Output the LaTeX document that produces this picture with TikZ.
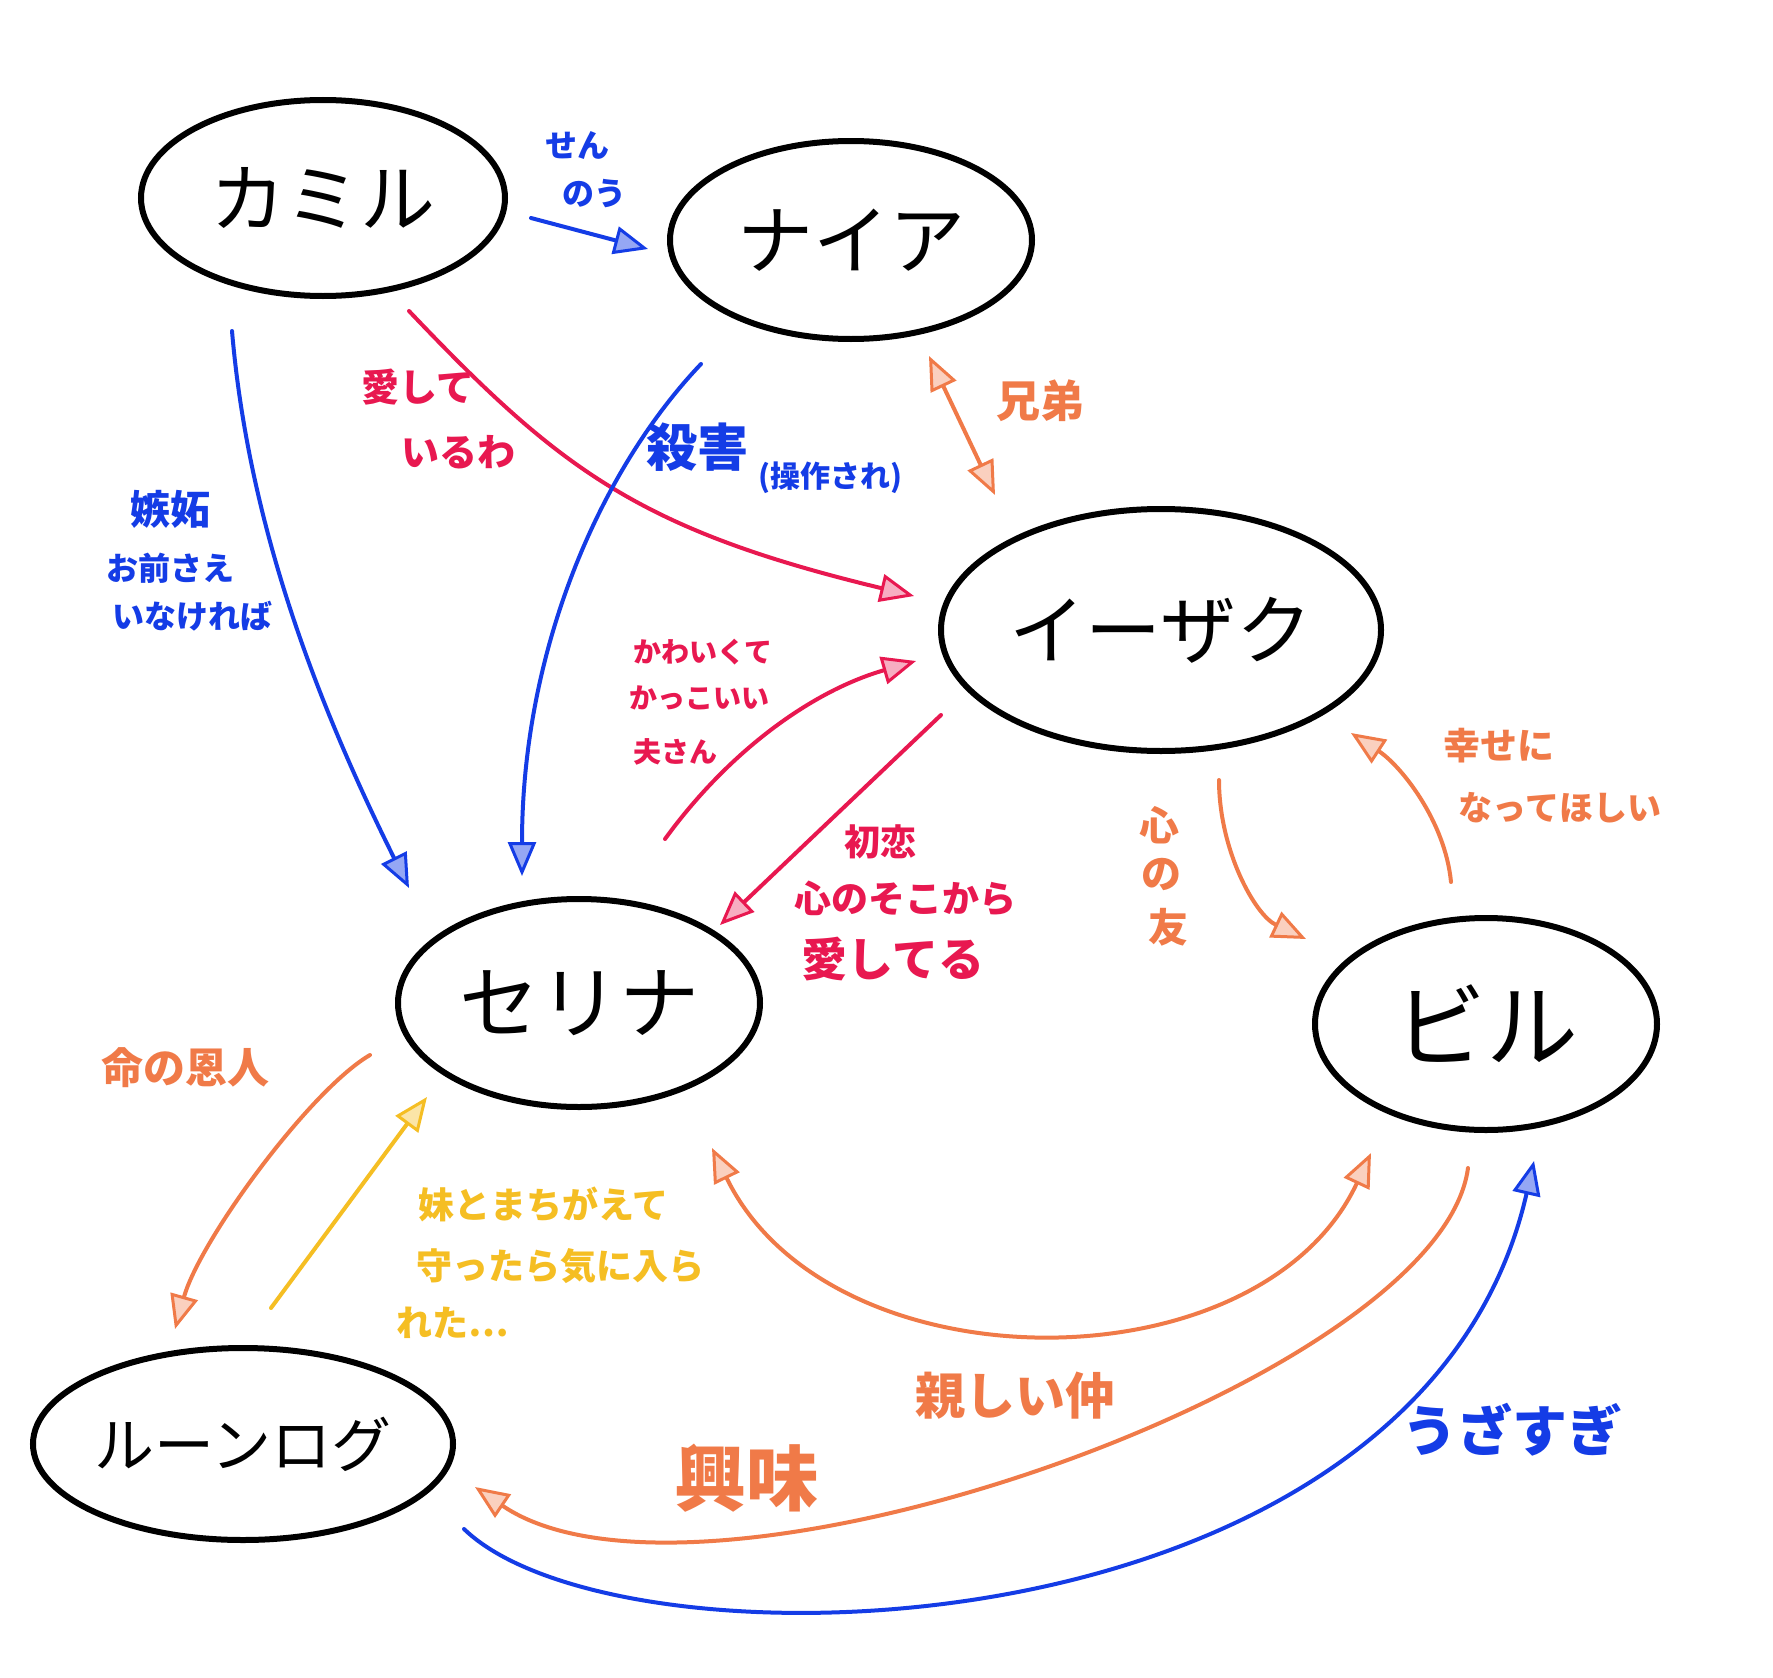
\documentclass[tikz,border=0pt]{standalone}
\usepackage{fontspec}
\newfontfamily\jp{Noto Sans CJK JP}
\usetikzlibrary{arrows.meta,shapes.geometric,calc}
\definecolor{bluec}{RGB}{20,60,230}
\definecolor{redc}{RGB}{232,24,80}
\definecolor{orangec}{RGB}{240,122,72}
\definecolor{yellowc}{RGB}{245,190,35}
\tikzset{
  person/.style={shape=ellipse, draw=black, line width=6pt, inner sep=0pt},
  lbl/.style={inner sep=0pt},
  conn/.style={line width=4pt, line cap=round},
  bluearr/.style={conn, draw=bluec, -{Triangle[length=34pt,width=28pt,fill=bluec!45,line width=3pt]}},
  redarr/.style={conn, draw=redc, -{Triangle[length=34pt,width=28pt,fill=redc!35,line width=3pt]}},
  orangearr/.style={conn, draw=orangec, -{Triangle[length=34pt,width=28pt,fill=orangec!35,line width=3pt]}},
  orangedbl/.style={conn, draw=orangec, {Triangle[length=34pt,width=28pt,fill=orangec!35,line width=3pt]}-{Triangle[length=34pt,width=28pt,fill=orangec!35,line width=3pt]}},
  yellowarr/.style={conn, draw=yellowc, -{Triangle[length=34pt,width=28pt,fill=yellowc!40,line width=3pt]}},
}
\begin{document}
\begin{tikzpicture}[x=1pt,y=-1pt]
\useasboundingbox[fill=white] (0,0) rectangle (1773,1678);

% people
\node[person, minimum width=364pt, minimum height=196pt, font=\jp\fontsize{75}{80}\selectfont] (K) at (323,198) {カミル};
\node[person, minimum width=362pt, minimum height=198pt, font=\jp\fontsize{76}{80}\selectfont] (N) at (851,240) {ナイア};
\node[person, minimum width=440pt, minimum height=242pt, font=\jp\fontsize{76}{80}\selectfont] (I) at (1161,630) {イーザク};
\node[person, minimum width=362pt, minimum height=208pt, font=\jp\fontsize{80}{84}\selectfont] (S) at (579,1003) {セリナ};
\node[person, minimum width=342pt, minimum height=212pt, font=\jp\fontsize{92}{96}\selectfont] (B) at (1486,1024) {ビル};
\node[person, minimum width=414pt, minimum height=192pt, font=\jp\fontsize{60}{64}\selectfont] (R) at (243,1444) {ルーンログ};

% connectors
\draw[bluearr] ($(K)+(208,20)$) -- ($(N)+(-203,9)$);
\draw[bluearr] ($(K)+(-91,133)$) .. controls (249,530) and (320,709) .. ($(S)+(-170,-115)$);
\draw[redarr] ($(K)+(86,113)$) .. controls (560,470) and (640,530) .. ($(I)+(-247,-34)$);
\draw[bluearr] ($(N)+(-150,124)$) .. controls (600,470) and (522,650) .. ($(S)+(-57,-127)$);
\draw[orangedbl] ($(N)+(78,116)$) -- ($(I)+(-166,-135)$);
\draw[redarr] ($(S)+(86,-164)$) .. controls (729,751) and (812,691) .. ($(I)+(-245,31)$);
\draw[redarr] ($(I)+(-220,85)$) -- ($(S)+(141,-78)$);
\draw[orangearr] ($(I)+(58,150)$) .. controls (1219,850) and (1255,915) .. ($(B)+(-180,-85)$);
\draw[orangearr] ($(B)+(-35,-142)$) .. controls (1445,820) and (1400,765) .. ($(I)+(190,103)$);
\draw[orangearr] ($(S)+(-209,52)$) .. controls (310,1090) and (200,1240) .. ($(R)+(-68,-115)$);
\draw[yellowarr] ($(R)+(28,-136)$) -- ($(S)+(-152,94)$);
\draw[orangedbl] ($(S)+(133,145)$) .. controls (830,1390) and (1260,1390) .. ($(B)+(-115,129)$);
\draw[orangearr] ($(B)+(-18,144)$) .. controls (1440,1380) and (700,1640) .. ($(R)+(232,43)$);
\draw[bluearr] ($(R)+(221,85)$) .. controls (620,1680) and (1420,1660) .. ($(B)+(48,137)$);

% labels
\begin{scope}[every node/.style={lbl}]
\node[text=bluec, font=\jp\bfseries\fontsize{32}{34}\selectfont] (l1a) at (577,145) {せん};
\node[text=bluec, font=\jp\bfseries\fontsize{32}{34}\selectfont] (l1b) at (594,194) {のう};
\node[text=bluec, font=\jp\bfseries\fontsize{40}{42}\selectfont] (l2a) at (170,509) {嫉妬};
\node[text=bluec, font=\jp\bfseries\fontsize{32}{34}\selectfont] (l2b) at (170,568) {お前さえ};
\node[text=bluec, font=\jp\bfseries\fontsize{32}{34}\selectfont] (l2c) at (192,616) {いなければ};
\node[text=redc, font=\jp\bfseries\fontsize{38}{40}\selectfont] (l3a) at (418,387) {愛して};
\node[text=redc, font=\jp\bfseries\fontsize{38}{40}\selectfont] (l3b) at (458,452) {いるわ};
\node[text=bluec, font=\jp\bfseries\fontsize{51}{54}\selectfont] (l4a) at (697,447) {殺害};
\node[text=bluec, font=\jp\bfseries\fontsize{30}{32}\selectfont] (l4b) at (830,478) {(操作され)};
\node[text=orangec, font=\jp\bfseries\fontsize{44}{46}\selectfont] (l5) at (1040,401) {兄弟};
\node[text=redc, font=\jp\bfseries\fontsize{28}{30}\selectfont, anchor=west] (l6a) at (633,652) {かわいくて};
\node[text=redc, font=\jp\bfseries\fontsize{28}{30}\selectfont, anchor=west] (l6b) at (629,698) {かっこいい};
\node[text=redc, font=\jp\bfseries\fontsize{28}{30}\selectfont, anchor=west] (l6c) at (633,752) {夫さん};
\node[text=redc, font=\jp\bfseries\fontsize{36}{38}\selectfont] (l7a) at (880,842) {初恋};
\node[text=redc, font=\jp\bfseries\fontsize{37}{39}\selectfont] (l7b) at (905,899) {心のそこから};
\node[text=redc, font=\jp\bfseries\fontsize{46}{48}\selectfont] (l7c) at (893,959) {愛してる};
\node[text=orangec, font=\jp\bfseries\fontsize{40}{42}\selectfont] (l8a) at (1159,825) {心};
\node[text=orangec, font=\jp\bfseries\fontsize{40}{42}\selectfont] (l8b) at (1161,874) {の};
\node[text=orangec, font=\jp\bfseries\fontsize{40}{42}\selectfont] (l8c) at (1168,927) {友};
\node[text=orangec, font=\jp\bfseries\fontsize{37}{39}\selectfont] (l9a) at (1499,746) {幸せに};
\node[text=orangec, font=\jp\bfseries\fontsize{34}{36}\selectfont] (l9b) at (1560,808) {なってほしい};
\node[text=orangec, font=\jp\bfseries\fontsize{42}{44}\selectfont] (l10) at (185,1068) {命の恩人};
\node[text=yellowc, font=\jp\bfseries\fontsize{36}{38}\selectfont, anchor=west] (l11a) at (418,1204) {妹とまちがえて};
\node[text=yellowc, font=\jp\bfseries\fontsize{36}{38}\selectfont, anchor=west] (l11b) at (416,1266) {守ったら気に入ら};
\node[text=yellowc, font=\jp\bfseries\fontsize{36}{38}\selectfont, anchor=west] (l11c) at (396,1323) {れた…};
\node[text=orangec, font=\jp\bfseries\fontsize{50}{52}\selectfont] (l12) at (1015,1396) {親しい仲};
\node[text=orangec, font=\jp\bfseries\fontsize{72}{76}\selectfont] (l13) at (746,1478) {興味};
\node[text=bluec, font=\jp\bfseries\fontsize{55}{58}\selectfont] (l14) at (1512,1430) {うざすぎ};
\end{scope}
\end{tikzpicture}
\end{document}
